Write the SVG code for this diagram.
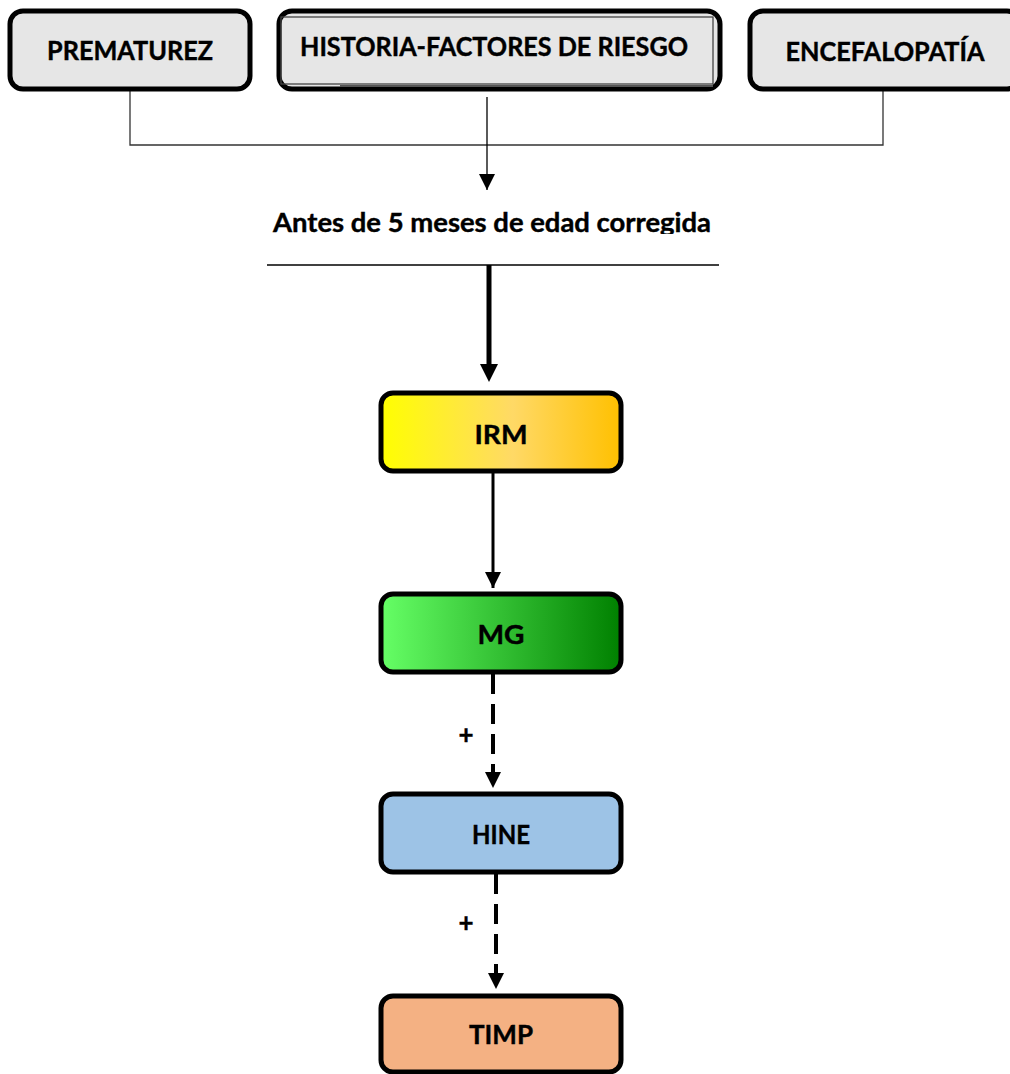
<svg xmlns="http://www.w3.org/2000/svg" width="1010" height="1074" viewBox="0 0 1010 1074">
<style>
.box{stroke:#000;stroke-width:5}
.top{fill:#E6E6E6}
.lbl{font-family:Lato,"Liberation Sans",sans-serif;font-weight:bold;font-size:26px;fill:#000;stroke:#000;stroke-width:0.4;text-anchor:middle}
.thin{fill:none;stroke:#333;stroke-width:1.3}
.solid{fill:none;stroke:#000}
.dash{fill:none;stroke:#000;stroke-width:4;stroke-dasharray:20 10}
</style>
<defs>
<linearGradient id="gY" x1="0" x2="1" y1="0" y2="0">
<stop offset="0" stop-color="#FFFF00"/><stop offset="0.55" stop-color="#FFD966"/><stop offset="1" stop-color="#FFC000"/>
</linearGradient>
<linearGradient id="gG" x1="0" x2="1" y1="0" y2="0">
<stop offset="0" stop-color="#66FF66"/><stop offset="1" stop-color="#008000"/>
</linearGradient>
<marker id="ah" viewBox="0 0 10 10" refX="10" refY="5" markerWidth="16" markerHeight="16" markerUnits="userSpaceOnUse" orient="auto">
<path d="M0,0 L10,5 L0,10 z" fill="#000"/>
</marker>
<clipPath id="clipT"><rect x="250" y="190" width="500" height="44"/></clipPath>
</defs>
<rect width="1010" height="1074" fill="#fff"/>

<g id="connectors">
<path class="thin" d="M130,90 V145 H883 V90"/>
<line class="solid" x1="487" y1="97" x2="487" y2="190" stroke-width="1.3" marker-end="url(#ah)"/>
<line x1="267" y1="265" x2="719" y2="265" stroke="#000" stroke-width="1.3"/>
<line class="solid" x1="489" y1="265" x2="489" y2="368" stroke-width="5"/>
<path d="M480,364 L498,364 L489,382 z" fill="#000"/>
<line class="solid" x1="493" y1="472" x2="493" y2="588" stroke-width="3" marker-end="url(#ah)"/>
<line class="dash" x1="493" y1="674" x2="493" y2="788" marker-end="url(#ah)"/>
<line class="dash" x1="496" y1="874" x2="496" y2="989" marker-end="url(#ah)"/>
<text class="lbl" x="466" y="744" font-size="26">+</text>
<text class="lbl" x="466" y="932" font-size="26">+</text>
</g>

<g id="n-prematurez">
<rect class="box top" x="10" y="11" width="240" height="78" rx="13"/>
<text class="lbl" x="130" y="60" textLength="166" lengthAdjust="spacingAndGlyphs">PREMATUREZ</text>
</g>

<g id="n-historia">
<rect class="box top" x="279" y="11" width="441" height="78" rx="13"/>
<rect x="281" y="17" width="432" height="67" fill="none" stroke="#444" stroke-width="1.3"/>
<line x1="340" y1="86" x2="713" y2="86" stroke="#555" stroke-width="2"/>
<text class="lbl" x="494" y="56" textLength="388" lengthAdjust="spacingAndGlyphs">HISTORIA-FACTORES DE RIESGO</text>
</g>

<g id="n-encefalopatia">
<rect class="box top" x="750" y="11" width="270" height="78" rx="13"/>
<text class="lbl" x="885" y="61" textLength="199" lengthAdjust="spacingAndGlyphs">ENCEFALOPATÍA</text>
</g>

<g id="n-antes">
<text class="lbl" x="492" y="232" clip-path="url(#clipT)" textLength="438" lengthAdjust="spacingAndGlyphs">Antes de 5 meses de edad corregida</text>
</g>

<g id="n-irm">
<rect class="box" x="381" y="393" width="240" height="78" rx="12" fill="url(#gY)"/>
<text class="lbl" x="501" y="444" textLength="53" lengthAdjust="spacingAndGlyphs">IRM</text>
</g>

<g id="n-mg">
<rect class="box" x="381" y="594" width="240" height="78" rx="12" fill="url(#gG)"/>
<text class="lbl" x="501" y="644" textLength="47" lengthAdjust="spacingAndGlyphs">MG</text>
</g>

<g id="n-hine">
<rect class="box" x="381" y="794" width="240" height="78" rx="12" fill="#9DC3E6"/>
<text class="lbl" x="501" y="844" textLength="58" lengthAdjust="spacingAndGlyphs">HINE</text>
</g>

<g id="n-timp">
<rect class="box" x="381" y="996" width="240" height="76" rx="12" fill="#F4B183"/>
<text class="lbl" x="501" y="1044" textLength="64" lengthAdjust="spacingAndGlyphs">TIMP</text>
</g>
</svg>
